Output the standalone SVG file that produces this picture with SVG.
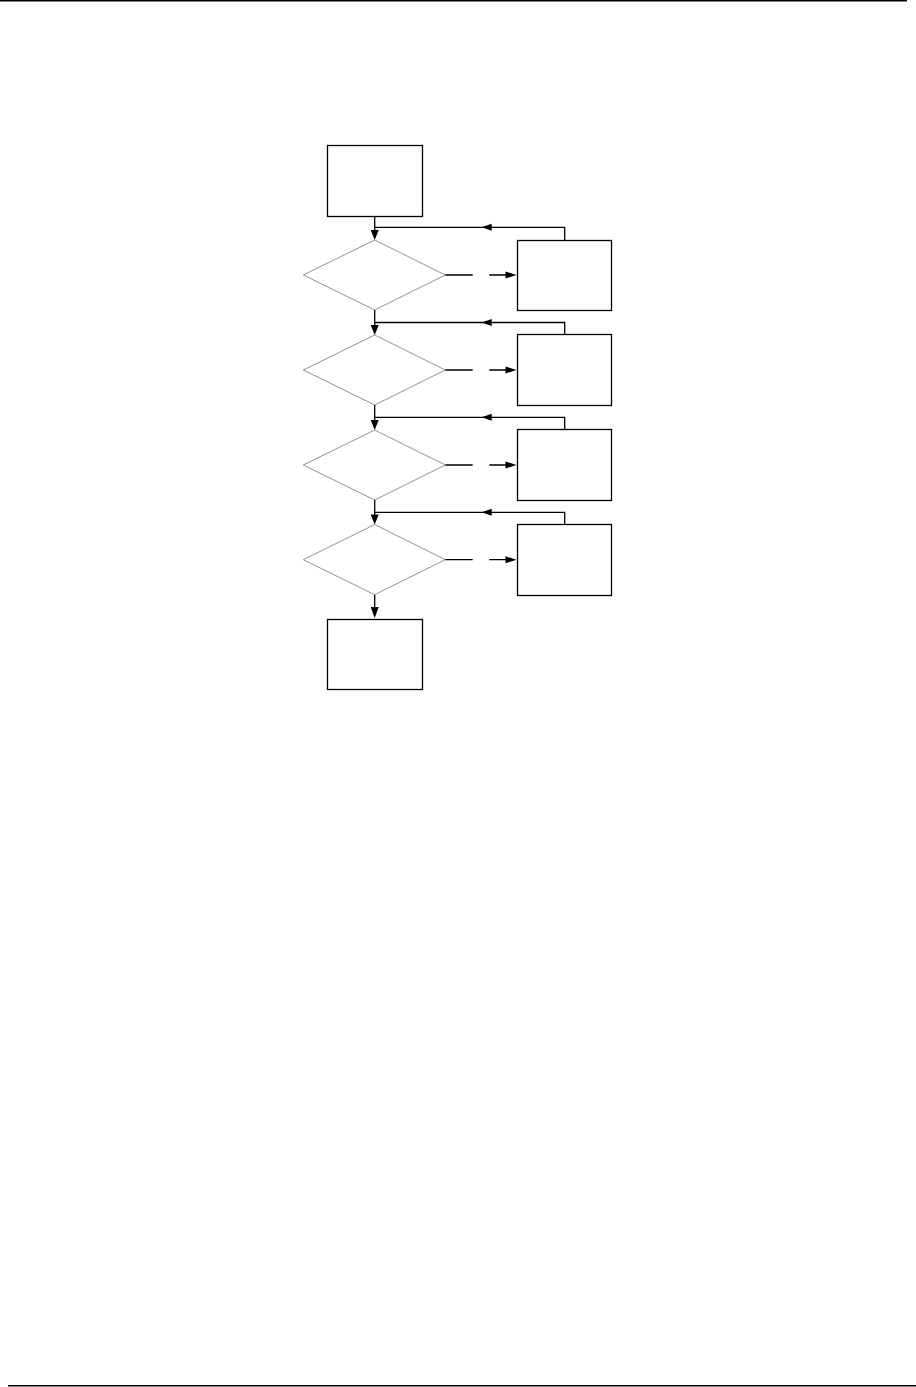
<svg xmlns="http://www.w3.org/2000/svg" width="916" height="1387" viewBox="0 0 916 1387">
<style>
.box{fill:#fff;stroke:#000;stroke-width:1.3}
.dia{fill:#fff;stroke:#777;stroke-width:0.8}
.ln{fill:none;stroke:#000;stroke-width:1.3}
.ah{fill:#000;stroke:none}
.rule{stroke:#000;stroke-width:1.5}
</style>
<rect width="916" height="1387" fill="#fff"/>
<line class="rule" x1="0" y1="0.8" x2="907" y2="0.8"/>
<line class="rule" x1="8" y1="1385.8" x2="916" y2="1385.8"/>
<g id="start"><rect class="box" x="327.5" y="145.5" width="95" height="71"/></g>
<g id="d1"><polygon class="dia" points="374.7,240 445.3,275 374.7,310 303.3,275"/></g>
<g id="d2"><polygon class="dia" points="374.7,335 445.3,370 374.7,405 303.3,370"/></g>
<g id="d3"><polygon class="dia" points="374.7,430 445.3,465 374.7,500 303.3,465"/></g>
<g id="d4"><polygon class="dia" points="374.7,524.5 445.3,559.7 374.7,594.7 303.3,559.7"/></g>
<g id="b1"><rect class="box" x="517.5" y="240.5" width="94" height="70"/></g>
<g id="b2"><rect class="box" x="517.5" y="334.5" width="94" height="71"/></g>
<g id="b3"><rect class="box" x="517.5" y="429.5" width="94" height="71"/></g>
<g id="b4"><rect class="box" x="517.5" y="524.5" width="94" height="71"/></g>
<g id="end"><rect class="box" x="327.5" y="619.5" width="95" height="70"/></g>
<g id="connectors">
<path class="ln" d="M374.7 216.5V232 M374.7 310V327 M374.7 405V422 M374.7 500V517 M374.7 594.7V610"/>
<path class="ah" d="M370.7 230h8l-4 10z M370.7 325h8l-4 10z M370.7 420h8l-4 10z M370.7 514.5h8l-4 10z M370.7 607h8l-4 11z"/>
<path class="ln" d="M374.7 227.3H564.7V240.5 M374.7 322.5H564.7V334.5 M374.7 417.3H564.7V429.5 M374.7 512.3H564.7V524.5"/>
<path class="ah" d="M481.7 227.3l10 -3.5v7z M481.7 322.5l10 -3.5v7z M481.7 417.3l10 -3.5v7z M481.7 512.3l10 -3.5v7z"/>
<path class="ln" d="M445.3 275H472.7 M489.3 275H507 M445.3 370H472.7 M489.3 370H507 M445.3 465H472.7 M489.3 465H507 M445.3 559.7H472.7 M489.3 559.7H507"/>
<path class="ah" d="M516.5 275l-11 -3.5v7z M516.5 370l-11 -3.5v7z M516.5 465l-11 -3.5v7z M516.5 559.7l-11 -3.5v7z"/>
</g>
</svg>
